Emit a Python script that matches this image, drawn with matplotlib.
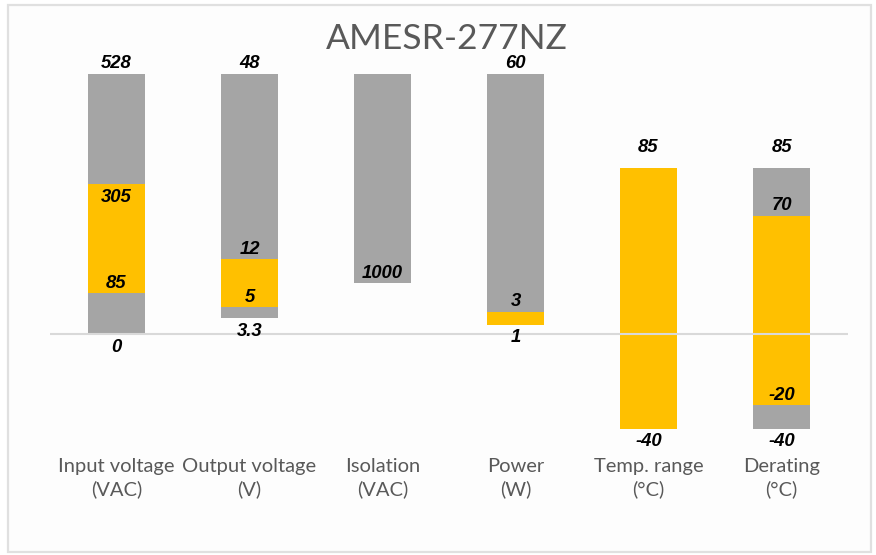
import matplotlib
matplotlib.use('Agg')
import matplotlib.pyplot as plt
from matplotlib.patches import Rectangle

# categories along the x axis
categories = ['Input voltage\n(VAC)', 'Output voltage\n(V)', 'Isolation\n(VAC)',
              'Power\n(W)', 'Temp. range\n(°C)', 'Derating\n(°C)']

# the chart is not drawn to one scale: each bar has its own display levels
# values at the bar edges (None = no label)
input_vals = [0, 85, 305, 528]
output_vals = [3.3, 5, 12, 48]
isolation_vals = [1000, None]
power_vals = [1, 3, 60]
temp_vals = [-40, 85]
derating_vals = [-40, -20, 70, 85]

# display level of each edge
input_lvl = [0, 41, 150, 260]
output_lvl = [16, 27, 75, 260]
isolation_lvl = [51, 260]
power_lvl = [9, 22, 260]
temp_lvl = [-95, 166]
derating_lvl = [-95, -71, 118, 166]

GREY = '#a5a5a5'
YELLOW = '#ffc000'

# segment colours between consecutive edges
input_seg = [GREY, YELLOW, GREY]
output_seg = [GREY, YELLOW, GREY]
isolation_seg = [GREY]
power_seg = [YELLOW, GREY]
temp_seg = [YELLOW]
derating_seg = [GREY, YELLOW, GREY]

# where each value label sits relative to its edge
input_pos = ['below', 'above', 'below', 'above']
output_pos = ['below', 'above', 'above', 'above']
isolation_pos = ['above', None]
power_pos = ['below', 'above', 'above']
temp_pos = ['below', 'high']
derating_pos = ['below', 'above', 'above', 'high']

bars = [
    (input_vals, input_lvl, input_seg, input_pos),
    (output_vals, output_lvl, output_seg, output_pos),
    (isolation_vals, isolation_lvl, isolation_seg, isolation_pos),
    (power_vals, power_lvl, power_seg, power_pos),
    (temp_vals, temp_lvl, temp_seg, temp_pos),
    (derating_vals, derating_lvl, derating_seg, derating_pos),
]

offsets = {'above': 10, 'high': 20, 'below': -13}

W, H = 876, 555
fig = plt.figure(figsize=(W / 100, H / 100), dpi=100)
fig.patch.set_facecolor('white')
fig.patches.append(Rectangle((8 / W, 3 / H), 863 / W, 547 / H, transform=fig.transFigure,
                             facecolor='#fdfdfd', edgecolor='#e0e0e0', linewidth=1.6, zorder=-5))

ax = fig.add_axes([50 / W, 100 / H, 798 / W, 415 / H])
ax.set_facecolor('none')
ax.set_xlim(-0.5, len(categories) - 0.5)
ax.set_ylim(-121, 294)

for i, (vals, lvl, seg, pos) in enumerate(bars):
    for j, c in enumerate(seg):
        ax.bar(i, lvl[j + 1] - lvl[j], bottom=lvl[j], width=0.43, color=c, linewidth=0, zorder=2)
    for v, l, p in zip(vals, lvl, pos):
        if v is None:
            continue
        ax.annotate(f'{v:g}', (i, l), xytext=(0, offsets[p]), textcoords='offset pixels',
                    ha='center', va='center', fontsize=13.3, fontweight='bold', fontstyle='italic',
                    family='Liberation Sans', color='#000000', zorder=4)

ax.axhline(0, color='#d9d9d9', linewidth=1.5, zorder=3)

ax.set_xticks(range(len(categories)))
ax.set_xticklabels(categories, family='Lato', fontsize=14.5, color='#595959', linespacing=1.4)
ax.tick_params(axis='x', length=0, pad=2)
ax.set_yticks([])
for s in ax.spines.values():
    s.set_visible(False)

fig.text(447 / W, 1 - 39 / H, 'AMESR-277NZ', ha='center', va='center',
         family='Lato', fontsize=25.5, color='#595959')

fig.savefig('out.png', dpi=100)
